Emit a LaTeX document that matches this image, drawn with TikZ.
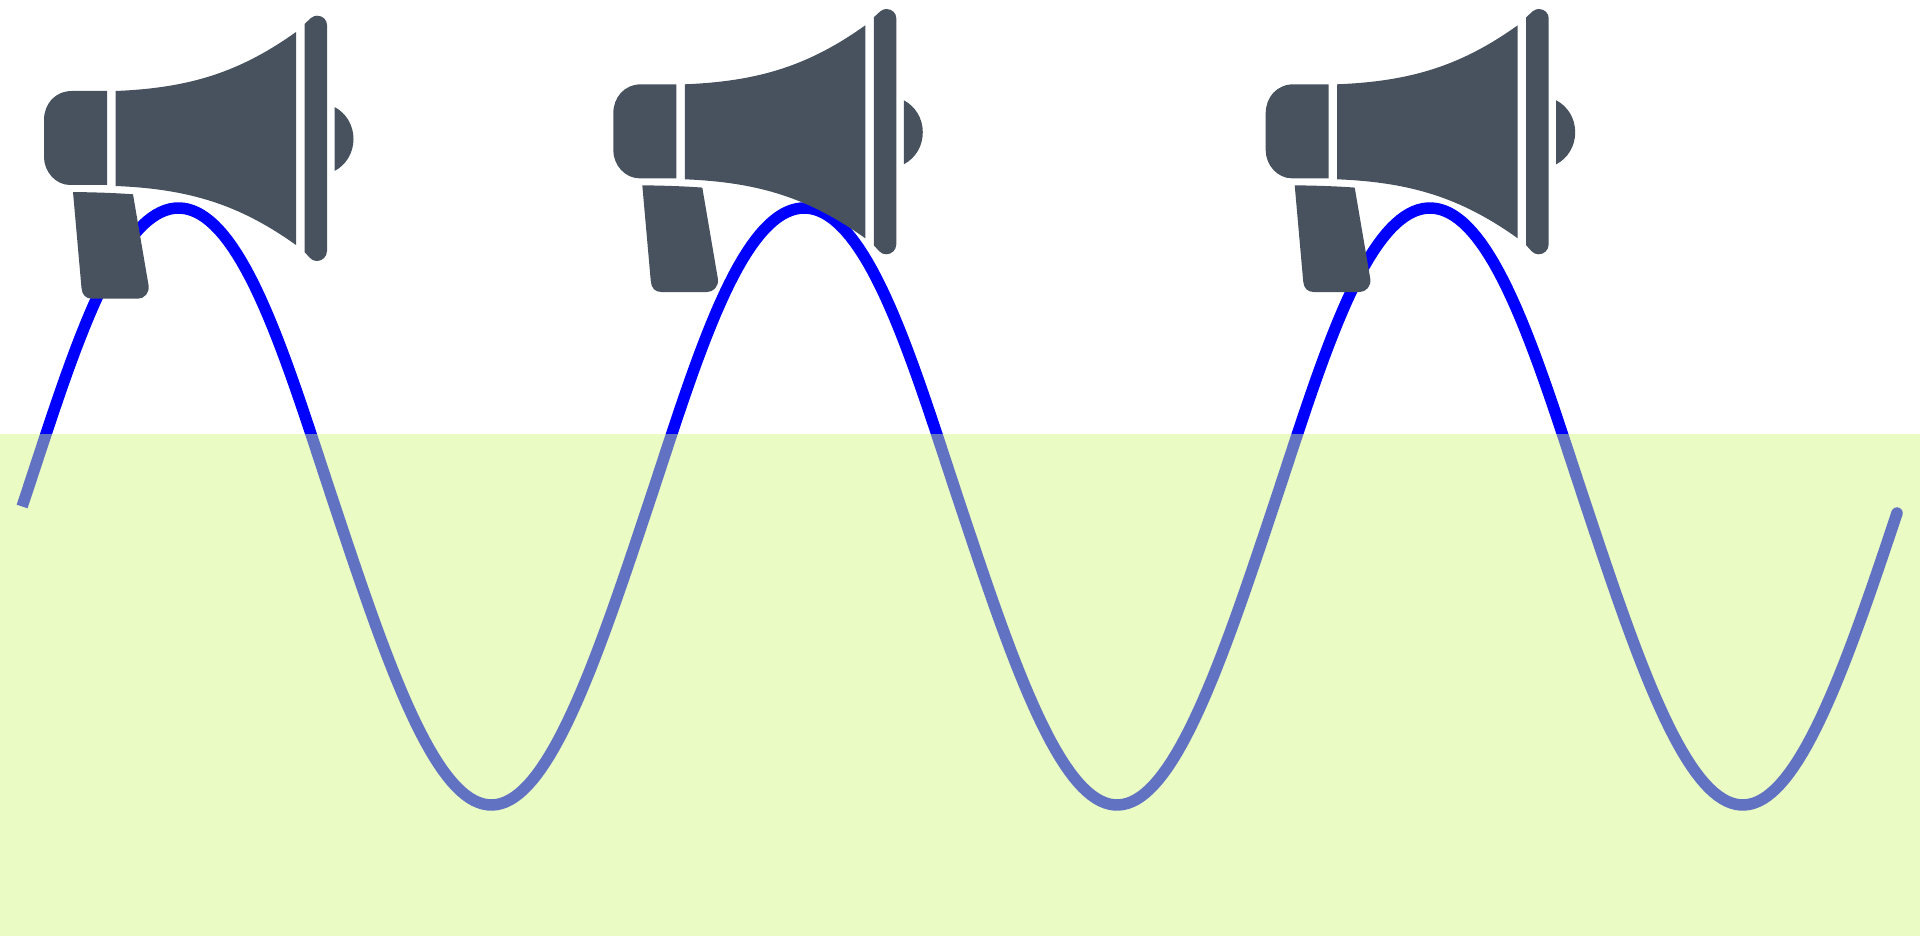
\documentclass[tikz,border=0pt]{standalone}
\definecolor{slate}{RGB}{71,82,94}
\definecolor{wave}{RGB}{0,0,255}
\definecolor{meadow}{RGB}{210,246,128}
\tikzset{
  x=1pt,y=-1pt,
  declare function={
    wavesin(\t)=sin((\t-22.1)/625.7*360);
    wavepos(\t)=max(wavesin(\t),0);
    wavey(\t)=506.5-298.5*wavesin(\t)-34*wavepos(\t)*wavepos(\t)*(1-wavepos(\t));
  },
  wavepath/.style={draw=wave,line width=11.5pt,line cap=butt,line join=round},
  band/.style={fill=meadow,fill opacity=0.467},
  megaphone/.pic={
    \fill[slate] (107,91) -- (72,91) .. controls (55,91) and (44,104) .. (44,120) -- (44,157)
      .. controls (44,172) and (56,185) .. (70,185) -- (107,185) -- cycle;
    \fill[slate] (115.5,91) .. controls (190,88) and (240,72) .. (296,32) -- (296,245)
      .. controls (240,205) and (190,189) .. (115.5,186) -- cycle;
    \fill[slate] (304.5,24) -- (311,18) .. controls (313,16.5) and (315,15.7) .. (317,15.7)
      .. controls (323,15.7) and (327,20) .. (327,25) -- (327,251)
      .. controls (327,257) and (322,261) .. (317,261) .. controls (314,261) and (312,260) .. (310,258)
      -- (304.5,252) -- cycle;
    \fill[slate] (334.5,107) .. controls (346,113) and (353.5,125) .. (353.5,139)
      .. controls (353.5,153) and (346,165) .. (334.5,171) -- cycle;
    \fill[slate] (73,192) .. controls (93,192.3) and (113,192.8) .. (133,194.3) -- (148.5,285)
      .. controls (150,293) and (144,298.7) .. (138,298.7) -- (92,298.7)
      .. controls (86,298.7) and (82,295) .. (81.5,288) -- cycle;
  }
}
\begin{document}
\begin{tikzpicture}
\useasboundingbox (0,0) rectangle (1920,936);
\coordinate (waveend) at (1897,{wavey(1897)});
\draw[wavepath] plot[domain=22.1:1897,samples=420] (\x,{wavey(\x)});
\fill[wave] (waveend) circle[radius=5.75];
\fill[band] (0,433.5) rectangle (1920,936);
\pic at (0,0) {megaphone};
\pic at (569.3,-6.7) {megaphone};
\pic at (1221.7,-6.7) {megaphone};
\end{tikzpicture}
\end{document}
